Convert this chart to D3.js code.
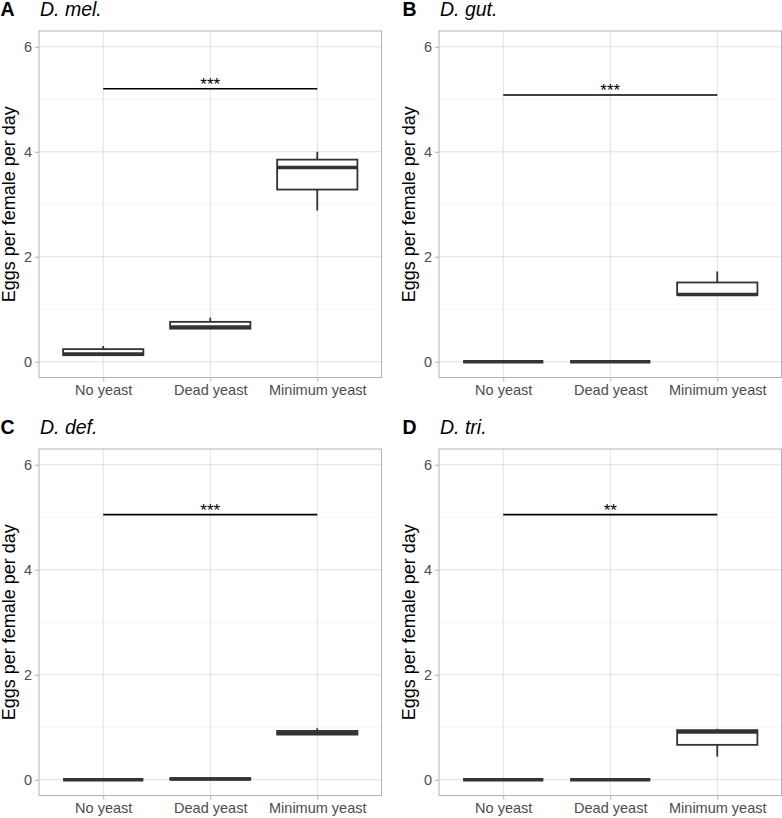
<!DOCTYPE html>
<html><head><meta charset="utf-8">
<script src="https://cdn.jsdelivr.net/npm/d3@7"></script>
<style>body{margin:0;background:#fff;}svg{display:block;font-family:"Liberation Sans",Arial,sans-serif;}</style>
</head><body>
<svg id="chart" width="782" height="818"></svg>
<script>
// ---- data ----
const categories = ["No yeast", "Dead yeast", "Minimum yeast"];
const yTicks = [0, 2, 4, 6];
const yMinorTicks = [1, 3, 5];
const panelLetters = ["A", "B", "C", "D"];
const panelSpecies = ["D. mel.", "D. gut.", "D. def.", "D. tri."];
// five-number summaries per category: [lower whisker, Q1, median, Q3, upper whisker]
const melStats = [[0.12, 0.125, 0.15, 0.24, 0.30], [0.63, 0.63, 0.66, 0.76, 0.84], [2.88, 3.28, 3.70, 3.85, 4.00]];
const gutStats = [[0, 0, 0, 0, 0], [0, 0, 0, 0, 0], [1.27, 1.27, 1.28, 1.51, 1.72]];
const defStats = [[0, 0, 0, 0, 0], [0.0, 0.005, 0.015, 0.03, 0.04], [0.85, 0.86, 0.89, 0.93, 0.98]];
const triStats = [[0, 0, 0, 0, 0], [0, 0, 0, 0, 0], [0.44, 0.665, 0.91, 0.945, 0.97]];
const sigY = [5.2, 5.08, 5.05, 5.05];
const sigLabels = ["***", "***", "***", "**"];
const yLabel = "Eggs per female per day";

const allStats = [melStats, gutStats, defStats, triStats];

const svg = d3.select("#chart");
const panelW = 342.5, panelH = 346.5;
const origins = [[39, 31], [439, 31], [39, 449], [439, 449]];

allStats.forEach((stats, i) => {
  const [ox, oy] = origins[i];
  const x = d3.scalePoint().domain(categories).range([ox, ox + panelW]).padding(0.6);
  const y = d3.scaleLinear().domain([-0.3, 6.3]).range([oy + panelH, oy]);
  const g = svg.append("g");
  const bw = x.step() * 0.75;

  // minor grid
  g.selectAll(".minor").data(yMinorTicks).join("line")
    .attr("x1", ox).attr("x2", ox + panelW)
    .attr("y1", d => y(d)).attr("y2", d => y(d))
    .attr("stroke", "#efefef").attr("stroke-width", 0.6);
  // major grid
  g.selectAll(".major").data(yTicks).join("line")
    .attr("x1", ox).attr("x2", ox + panelW)
    .attr("y1", d => y(d)).attr("y2", d => y(d))
    .attr("stroke", "#e0e0e0").attr("stroke-width", 1);
  g.selectAll(".vmajor").data(categories).join("line")
    .attr("x1", d => x(d)).attr("x2", d => x(d))
    .attr("y1", oy).attr("y2", oy + panelH)
    .attr("stroke", "#e0e0e0").attr("stroke-width", 1);

  // axes
  const yAxis = d3.axisLeft(y).tickValues(yTicks).tickSize(4).tickPadding(3).tickFormat(d3.format("d"));
  const ya = g.append("g").attr("transform", `translate(${ox},0)`).call(yAxis);
  const xAxis = d3.axisBottom(x).tickSize(4).tickPadding(3);
  const xa = g.append("g").attr("transform", `translate(0,${oy + panelH})`).call(xAxis);
  [ya, xa].forEach(a => {
    a.select(".domain").remove();
    a.selectAll(".tick line").attr("stroke", "#b3b3b3");
    a.selectAll(".tick text").attr("fill", "#4d4d4d").style("font-size", "14.5px")
      .style("font-family", "'Liberation Sans', Arial, sans-serif");
  });
  xa.selectAll(".tick text").attr("dy", "0.72em");

  // boxes
  stats.forEach((s, j) => {
    const cx = x(categories[j]);
    const [lo, q1, med, q3, hi] = s;
    g.append("line").attr("x1", cx).attr("x2", cx).attr("y1", y(q3)).attr("y2", y(hi))
      .attr("stroke", "#333").attr("stroke-width", 1.8);
    g.append("line").attr("x1", cx).attr("x2", cx).attr("y1", y(q1)).attr("y2", y(lo))
      .attr("stroke", "#333").attr("stroke-width", 1.8);
    g.append("rect").attr("x", cx - bw / 2).attr("width", bw)
      .attr("y", y(q3)).attr("height", Math.max(0, y(q1) - y(q3)))
      .attr("fill", "#fff").attr("stroke", "#333").attr("stroke-width", 1.8);
    g.append("line").attr("x1", cx - bw / 2).attr("x2", cx + bw / 2).attr("y1", y(med)).attr("y2", y(med))
      .attr("stroke", "#333").attr("stroke-width", 3.5);
  });

  // significance bar
  g.append("line").attr("x1", x(categories[0])).attr("x2", x(categories[2]))
    .attr("y1", y(sigY[i])).attr("y2", y(sigY[i]))
    .attr("stroke", "#000").attr("stroke-width", 1.6);
  g.append("text").attr("x", x(categories[1])).attr("y", y(sigY[i]) + 1)
    .attr("text-anchor", "middle").style("font-size", "17px").attr("fill", "#000")
    .text(sigLabels[i]);

  // panel border
  g.append("rect").attr("x", ox).attr("y", oy).attr("width", panelW).attr("height", panelH)
    .attr("fill", "none").attr("stroke", "#b3b3b3").attr("stroke-width", 1);

  // titles
  const tx = ox - 39 + (i % 2 ? 2 : 0);
  g.append("text").attr("x", tx + 0.5).attr("y", oy - 15).style("font-size", "19.5px")
    .style("font-weight", "bold").text(panelLetters[i]);
  g.append("text").attr("x", ox + 1).attr("y", oy - 15).style("font-size", "19.5px")
    .style("font-style", "italic").text(panelSpecies[i]);

  // y label
  g.append("text").attr("transform", `translate(${ox - 24},${oy + panelH / 2}) rotate(-90)`)
    .attr("text-anchor", "middle").style("font-size", "18px").text(yLabel);
});
</script>
</body></html>
